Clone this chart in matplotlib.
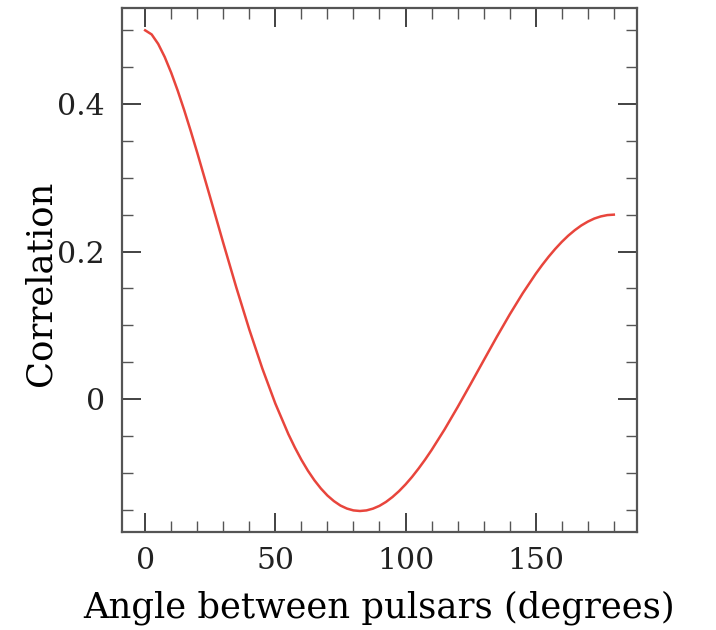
import matplotlib
matplotlib.use('Agg')
from matplotlib import pyplot as plt
from matplotlib.ticker import MultipleLocator, FixedLocator, FixedFormatter

# angle (degrees) and correlation
angle = [0, 2.5, 5, 7.5, 10, 12.5, 15, 17.5, 20, 25, 30, 35, 40, 45, 50, 55,
         57.5, 60, 62.5, 65, 67.5, 70, 72.5, 75, 77.5, 80, 82.5, 85, 87.5, 90,
         92.5, 95, 97.5, 100, 102.5, 105, 107.5, 110, 115, 120, 125, 130, 135,
         140, 145, 150, 152.5, 155, 157.5, 160, 162.5, 165, 167.5, 170, 172.5,
         175, 177.5, 180]
corr = [0.5, 0.4944, 0.4816, 0.4639, 0.4425, 0.4182, 0.3917, 0.3635, 0.3341,
        0.2732, 0.2116, 0.1514, 0.0942, 0.0414, -0.0062, -0.0476, -0.0658,
        -0.0824, -0.0972, -0.1102, -0.1214, -0.1309, -0.1385, -0.1445, -0.1486,
        -0.1511, -0.1519, -0.1511, -0.1487, -0.1449, -0.1396, -0.1329, -0.1250,
        -0.1159, -0.1057, -0.0944, -0.0823, -0.0693, -0.0413, -0.0111, 0.0203,
        0.0522, 0.0839, 0.1145, 0.1433, 0.1697, 0.1818, 0.1931, 0.2035, 0.2130,
        0.2215, 0.2289, 0.2353, 0.2405, 0.2447, 0.2476, 0.2494, 0.25]

x_ticks = [0, 50, 100, 150]
x_labels = ['0', '50', '100', '150']
y_ticks = [0, 0.2, 0.4]
y_labels = ['0', '0.2', '0.4']

plt.rcParams['font.family'] = ['DejaVu Serif']
plt.rcParams['text.color'] = '#222222'

fig = plt.figure(figsize=(7.16, 6.3), dpi=100)
ax = fig.add_axes([0.170, 0.156, 0.720, 0.831])

ax.plot(angle, corr, color='#e8453c', lw=1.8)

ax.set_xlim(-9, 189)
ax.set_ylim(-0.18, 0.53)

ax.xaxis.set_major_locator(FixedLocator(x_ticks))
ax.xaxis.set_major_formatter(FixedFormatter(x_labels))
ax.xaxis.set_minor_locator(MultipleLocator(10))
ax.yaxis.set_major_locator(FixedLocator(y_ticks))
ax.yaxis.set_major_formatter(FixedFormatter(y_labels))
ax.yaxis.set_minor_locator(MultipleLocator(0.05))

ax.tick_params(which='both', direction='in', top=True, right=True,
               labelsize=21.5, color='#222222', labelcolor='#222222')
ax.tick_params(which='major', length=14, width=1.2)
ax.tick_params(axis='x', which='major', pad=11)
ax.tick_params(axis='y', which='major', pad=12)
ax.tick_params(which='minor', length=8, width=1.0, color='#555555')
for s in ax.spines.values():
    s.set_linewidth(1.6)
    s.set_color('#555555')

ax.set_xlabel('Angle between pulsars (degrees)', fontsize=25.5)
ax.set_ylabel('Correlation', fontsize=25.5)
ax.xaxis.set_label_coords(0.5, -0.113)
ax.yaxis.set_label_coords(-0.124, 0.475)

fig.savefig('out.png', dpi=100)
